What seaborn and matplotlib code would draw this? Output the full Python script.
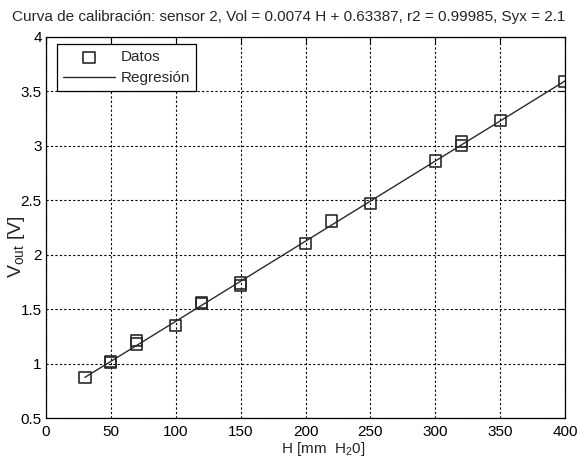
import numpy as np
import pandas as pd
import matplotlib
matplotlib.use("Agg")
import matplotlib.pyplot as plt
import seaborn as sns

# Data
H = [30, 50, 50, 70, 70, 100, 120, 120, 150, 150, 200, 220, 250, 300, 320, 320, 350, 400]
Vout = [0.87, 1.02, 1.01, 1.21, 1.18, 1.35, 1.56, 1.55, 1.74, 1.72, 2.10, 2.31, 2.47, 2.86, 3.04, 3.00, 3.23, 3.59]
x_ticks = [0, 50, 100, 150, 200, 250, 300, 350, 400]
y_ticks = [0.5, 1, 1.5, 2, 2.5, 3, 3.5, 4]
title = "Curva de calibración: sensor 2, Vol = 0.0074 H + 0.63387, r2 = 0.99985, Syx = 2.1"

df = pd.DataFrame({"H": H, "Vout": Vout})

sns.set_theme(style="white")
plt.rcParams['font.family'] = ['Liberation Sans', 'DejaVu Sans']
plt.rcParams['mathtext.fontset'] = 'custom'
plt.rcParams['mathtext.rm'] = 'Liberation Sans'

fig = plt.figure(figsize=(5.77, 4.57), dpi=100)
ax = fig.add_axes([46/577, 1-418/457, (565-46)/577, (418-37)/457])

sns.scatterplot(data=df, x="H", y="Vout", ax=ax, marker="s", s=65,
                facecolor="none", edgecolor="#2a2a2a", linewidth=1.2,
                label="Datos", zorder=3)
sns.regplot(data=df, x="H", y="Vout", ax=ax, scatter=False, ci=None,
            label="Regresión",
            line_kws=dict(color="#2a2a2a", lw=1.0), truncate=True)

ax.set_xlim(0, 400)
ax.set_ylim(0.5, 4)
ax.set_xticks(x_ticks)
ax.set_yticks(y_ticks)
ax.set_xticklabels([str(t) for t in x_ticks])
ax.set_yticklabels([f"{t:g}" for t in y_ticks])
ax.grid(True, color="black", linestyle=(0, (2, 2)), linewidth=0.8)
ax.tick_params(direction="in", top=True, right=True, length=5, width=0.8,
               colors="black", labelsize=11, pad=5)
ax.tick_params(axis="y", pad=3)
for s in ax.spines.values():
    s.set_color("black")
    s.set_linewidth(0.9)

fig.text(0.5, 1-17/457, title, ha="center", va="center", fontsize=11)
ax.set_xlabel(r"H [mm  H$_2$0]", fontsize=11, va="top")
ax.xaxis.set_label_coords(0.534, -0.058)
ax.set_ylabel(r"V$_{\mathregular{out}}$ [V]", fontsize=14)
ax.yaxis.set_label_coords(-0.037, 0.45)

leg = ax.legend(loc="upper left", bbox_to_anchor=(11/519, 1-7/381),
                fontsize=11, frameon=True, fancybox=False,
                edgecolor="black", framealpha=1, borderaxespad=0,
                handlelength=3.4, borderpad=0.4, labelspacing=0.45,
                handletextpad=0.35)
leg.get_frame().set_linewidth(0.9)

fig.savefig("out.png", dpi=100)
